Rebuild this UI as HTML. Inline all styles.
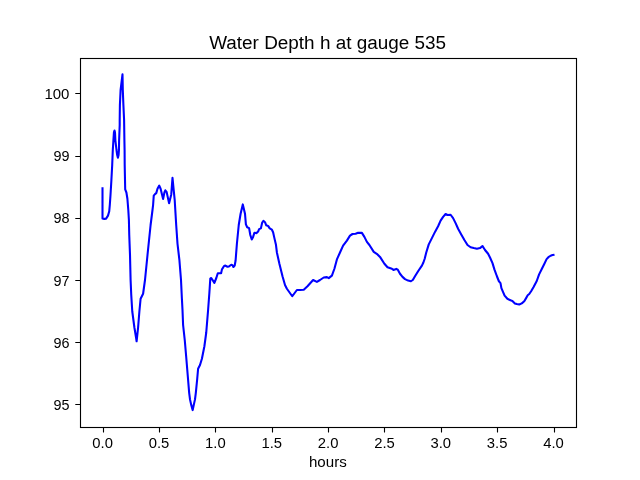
<!DOCTYPE html>
<html><head><meta charset="utf-8"><style>
html,body{margin:0;padding:0;background:#fff;width:640px;height:480px;overflow:hidden}
svg{display:block;will-change:transform}
text{font-family:"Liberation Sans", sans-serif;fill:#000}
</style></head><body>
<svg width="640" height="480" viewBox="0 0 640 480">
<rect width="640" height="480" fill="#fff"/>
<rect x="80.5" y="58.5" width="496" height="369" fill="none" stroke="#000" stroke-width="1.11" stroke-linejoin="miter"/>
<path d="M103.5 427.5 V432.4 M159.5 427.5 V432.4 M215.5 427.5 V432.4 M272.5 427.5 V432.4 M328.5 427.5 V432.4 M384.5 427.5 V432.4 M441.5 427.5 V432.4 M497.5 427.5 V432.4 M554.5 427.5 V432.4 M80 404.5 H75.3 M80 342.5 H75.3 M80 280.5 H75.3 M80 218.5 H75.3 M80 156.5 H75.3 M80 93.5 H75.3" stroke="#000" stroke-width="1.11" fill="none"/>
<path d="M102.50 188.20 L102.50 218.40 L104.25 218.90 L106.10 218.60 L108.00 215.60 L109.25 211.25 L109.80 205.00 L110.50 195.00 L111.40 180.00 L112.20 165.00 L112.80 150.00 L113.40 140.60 L113.95 132.30 L114.50 130.50 L115.00 132.60 L115.40 140.60 L116.50 150.00 L117.20 155.00 L117.90 157.80 L118.60 155.00 L118.95 150.00 L119.10 140.60 L119.70 125.00 L119.70 120.00 L119.90 105.00 L120.60 90.00 L122.50 74.40 L122.80 90.00 L123.40 105.00 L124.10 120.00 L124.40 140.60 L124.60 150.00 L124.70 165.00 L125.00 180.00 L125.20 189.40 L126.40 192.50 L127.40 198.75 L128.30 210.00 L128.90 220.00 L129.25 235.00 L130.00 255.00 L130.60 280.00 L131.25 295.00 L132.25 311.25 L134.40 327.50 L136.25 338.75 L136.60 341.30 L136.90 338.75 L138.10 327.50 L139.40 311.25 L140.60 298.75 L143.10 293.75 L145.00 280.00 L147.50 255.00 L150.60 225.00 L152.50 210.00 L153.10 205.00 L153.75 195.60 L155.00 194.10 L156.25 193.10 L157.50 188.75 L159.25 185.60 L160.60 188.75 L163.10 199.00 L164.40 192.50 L165.30 190.30 L166.60 191.90 L169.10 203.20 L171.25 194.40 L172.50 177.80 L173.75 190.60 L174.70 200.00 L176.20 225.00 L177.50 243.75 L179.40 260.00 L180.00 267.50 L181.00 280.00 L181.90 298.75 L182.50 310.00 L183.10 325.00 L184.75 340.00 L186.25 357.50 L187.80 376.25 L189.20 393.10 L190.00 399.40 L191.10 404.40 L192.70 410.10 L193.90 404.40 L195.00 399.40 L195.80 393.10 L197.20 379.00 L198.10 368.75 L200.00 365.00 L201.90 358.75 L204.40 346.25 L206.25 332.50 L208.10 310.00 L209.40 292.50 L209.70 288.00 L210.30 278.60 L211.25 278.00 L214.40 282.90 L216.30 278.00 L217.80 273.30 L221.10 273.30 L221.90 269.60 L223.75 266.40 L225.00 265.50 L227.50 266.75 L229.00 266.40 L231.25 264.75 L232.50 265.20 L233.40 267.00 L234.70 265.50 L235.60 260.50 L236.90 243.75 L238.75 225.00 L240.60 213.75 L242.80 204.40 L245.00 213.75 L245.90 224.40 L247.20 227.20 L249.10 228.10 L250.30 235.00 L251.75 239.40 L253.10 236.90 L254.40 232.80 L256.60 233.10 L258.10 231.60 L259.10 229.10 L260.90 228.40 L262.20 222.50 L263.40 220.90 L265.00 222.20 L266.25 225.30 L268.10 225.90 L269.70 228.40 L271.90 229.70 L273.10 232.20 L274.40 238.10 L275.90 244.40 L276.90 252.50 L279.40 263.75 L282.50 276.25 L285.00 285.00 L286.90 288.75 L292.25 296.25 L296.90 290.00 L300.00 290.00 L303.75 289.75 L307.50 286.25 L313.10 280.00 L316.90 281.90 L320.00 280.00 L323.75 277.50 L326.90 277.10 L328.75 278.10 L331.90 275.60 L334.40 268.75 L336.90 259.40 L340.00 252.50 L343.10 245.60 L346.90 240.60 L350.00 235.60 L352.50 234.00 L355.60 233.75 L358.10 232.75 L361.90 232.90 L364.40 236.90 L366.90 241.90 L369.40 245.00 L373.75 251.90 L377.50 254.40 L380.00 256.90 L384.40 263.75 L387.50 267.25 L391.90 268.75 L393.40 269.90 L396.25 268.90 L397.80 269.70 L400.00 273.75 L402.50 276.90 L405.00 279.10 L408.10 280.60 L410.90 281.25 L412.80 280.00 L415.00 276.25 L418.10 271.25 L421.90 265.60 L423.40 262.50 L424.70 258.75 L426.25 252.50 L428.75 244.40 L431.90 238.10 L435.00 231.90 L438.10 226.25 L440.60 220.60 L443.10 216.90 L445.60 214.00 L447.50 215.00 L450.60 214.75 L453.10 218.10 L455.60 223.10 L458.10 228.75 L461.25 234.40 L464.40 240.00 L467.50 245.00 L470.60 247.25 L473.75 248.10 L476.90 248.75 L480.00 248.10 L482.50 246.00 L485.00 250.00 L488.10 253.75 L490.00 257.50 L492.50 263.10 L494.40 269.40 L496.90 276.25 L498.90 281.25 L500.50 283.10 L501.40 288.10 L503.00 291.90 L504.60 295.60 L507.40 298.75 L510.50 300.30 L512.40 300.90 L514.90 303.40 L516.75 304.00 L519.25 304.50 L521.75 303.40 L524.25 301.25 L526.10 298.10 L527.70 295.30 L529.25 294.00 L531.10 291.25 L533.60 286.90 L536.75 281.00 L539.10 274.40 L541.90 268.75 L544.40 263.75 L546.60 259.10 L548.40 257.20 L550.60 255.75 L552.50 255.10 L553.50 254.90" fill="none" stroke="#0000ff" stroke-width="2.08" stroke-linejoin="round" stroke-linecap="square"/>
<text x="327.65" y="49" font-size="17.6" text-anchor="middle" textLength="236.9" lengthAdjust="spacingAndGlyphs">Water Depth h at gauge 535</text>
<text x="102.65" y="448" font-size="13.9" text-anchor="middle" textLength="20.6" lengthAdjust="spacingAndGlyphs">0.0</text>
<text x="159.01" y="448" font-size="13.9" text-anchor="middle" textLength="20.6" lengthAdjust="spacingAndGlyphs">0.5</text>
<text x="215.37" y="448" font-size="13.9" text-anchor="middle" textLength="20.6" lengthAdjust="spacingAndGlyphs">1.0</text>
<text x="271.74" y="448" font-size="13.9" text-anchor="middle" textLength="20.6" lengthAdjust="spacingAndGlyphs">1.5</text>
<text x="328.10" y="448" font-size="13.9" text-anchor="middle" textLength="20.6" lengthAdjust="spacingAndGlyphs">2.0</text>
<text x="384.46" y="448" font-size="13.9" text-anchor="middle" textLength="20.6" lengthAdjust="spacingAndGlyphs">2.5</text>
<text x="440.83" y="448" font-size="13.9" text-anchor="middle" textLength="20.6" lengthAdjust="spacingAndGlyphs">3.0</text>
<text x="497.19" y="448" font-size="13.9" text-anchor="middle" textLength="20.6" lengthAdjust="spacingAndGlyphs">3.5</text>
<text x="553.55" y="448" font-size="13.9" text-anchor="middle" textLength="20.6" lengthAdjust="spacingAndGlyphs">4.0</text>
<text x="69.4" y="409.90" font-size="14.4" text-anchor="end" textLength="16" lengthAdjust="spacingAndGlyphs">95</text>
<text x="69.4" y="347.70" font-size="14.4" text-anchor="end" textLength="16" lengthAdjust="spacingAndGlyphs">96</text>
<text x="69.4" y="285.50" font-size="14.4" text-anchor="end" textLength="16" lengthAdjust="spacingAndGlyphs">97</text>
<text x="69.4" y="223.30" font-size="14.4" text-anchor="end" textLength="16" lengthAdjust="spacingAndGlyphs">98</text>
<text x="69.4" y="161.10" font-size="14.4" text-anchor="end" textLength="16" lengthAdjust="spacingAndGlyphs">99</text>
<text x="69.4" y="98.90" font-size="14.4" text-anchor="end" textLength="25" lengthAdjust="spacingAndGlyphs">100</text>
<text x="327.85" y="466.8" font-size="14.6" text-anchor="middle" textLength="37.8" lengthAdjust="spacingAndGlyphs">hours</text>
</svg>
</body></html>
